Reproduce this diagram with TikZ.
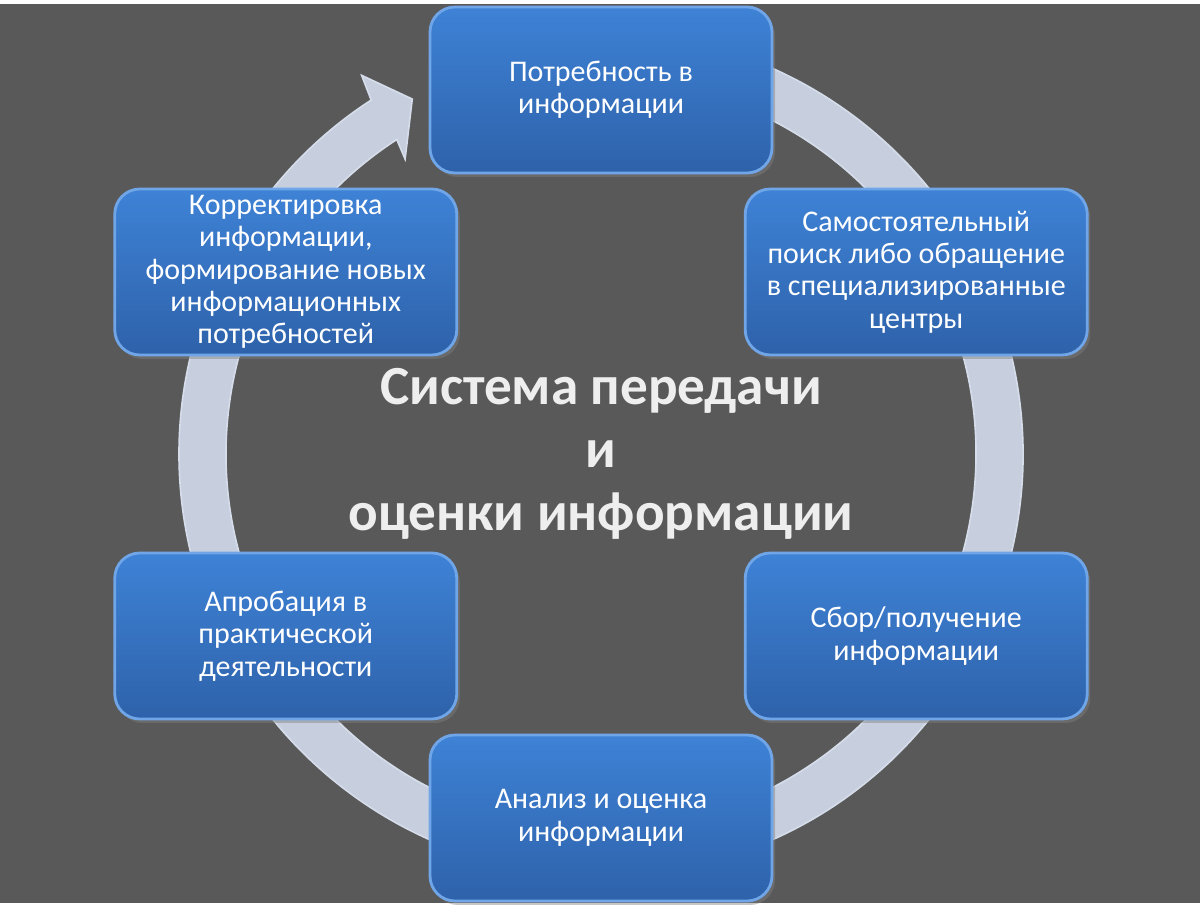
\documentclass[tikz,border=0pt]{standalone}
\usepackage{fontspec}
\setmainfont{Carlito}
\usetikzlibrary{positioning,shadows}
\definecolor{bgc}{RGB}{89,89,89}
\definecolor{ringc}{RGB}{199,207,223}
\definecolor{ringe}{RGB}{214,221,234}
\definecolor{boxtop}{RGB}{62,130,214}
\definecolor{boxbot}{RGB}{46,98,170}
\definecolor{rim}{RGB}{112,166,232}
\definecolor{ttl}{RGB}{238,238,238}
\newcommand{\fStage}{\fontsize{15}{16.2}\selectfont}
\newcommand{\fTitle}{\fontsize{27.6}{31.5}\selectfont}
\begin{document}
\begin{tikzpicture}[x=0.5pt,y=0.5pt,
  stage/.style={rounded corners=12.5pt,top color=boxtop,bottom color=boxbot,draw=rim,line width=1.4pt,
    minimum width=171pt,minimum height=83pt,inner ysep=0pt,align=center,text=white,font=\fStage,
    drop shadow={shadow xshift=1.5pt,shadow yshift=-2pt,opacity=0.45}}]
  \useasboundingbox (0,0) rectangle (1200,915);
  \fill[bgc] (0,12) rectangle (1200,911);
  \coordinate (ctr) at (601,461);
  % ring with arrowhead, clockwise
  \fill[ringc,draw=ringe,line width=0.8pt] ([shift={(100:422)}]ctr) arc[start angle=100,end angle=-237,radius=422]
    -- ([shift={(-237.7:448)}]ctr) -- ([shift={(-242:402)}]ctr) -- ([shift={(-236.4:354)}]ctr)
    -- ([shift={(-237:375)}]ctr) arc[start angle=-237,end angle=100,radius=375] -- cycle;
  \node[stage] (need) at ([shift={(90:364)}]ctr) {Потребность в\\ информации};
  \node[stage] (search) at ([shift={(30:364)}]ctr) {Самостоятельный\\ поиск либо обращение\\ в специализированные\\ центры};
  \node[stage] (collect) at ([shift={(-30:364)}]ctr) {Сбор/получение\\ информации};
  \node[stage] (anal) at ([shift={(-90:364)}]ctr) {Анализ и оценка\\ информации};
  \node[stage] (test) at ([shift={(-150:364)}]ctr) {Апробация в\\ практической\\ деятельности};
  \node[stage] (fix) at ([shift={(150:364)}]ctr) {Корректировка\\ информации,\\ формирование новых\\ информационных\\ потребностей};
  \node[align=center,text=ttl,font=\fTitle\bfseries] (title) at (ctr) {Система передачи\\ и\\ оценки информации};
\end{tikzpicture}
\end{document}
